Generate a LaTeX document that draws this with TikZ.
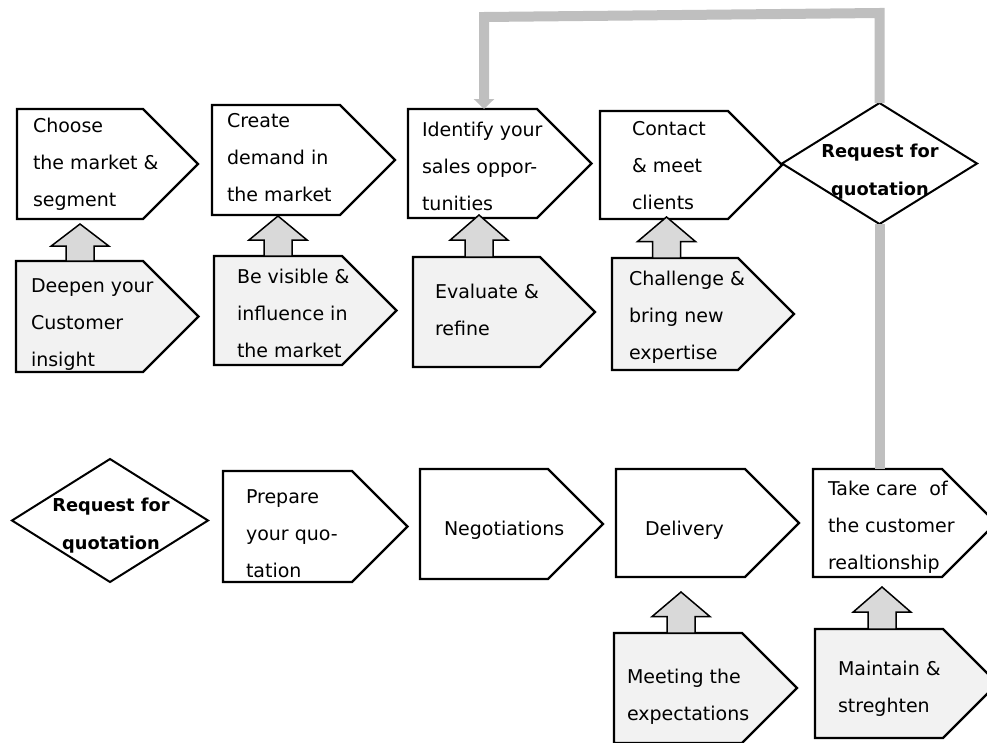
\documentclass[tikz,border=0pt]{standalone}
\usepackage{fontspec}
\setmainfont{DejaVu Sans}
\usetikzlibrary{shapes.geometric,arrows.meta,calc}

\definecolor{panelfill}{HTML}{F2F2F2}
\definecolor{liftfill}{HTML}{D9D9D9}
\definecolor{loopgrey}{HTML}{BFBFBF}

\tikzset{
  tagrect/.style={rectangle, draw=none, inner sep=0pt, outer sep=0pt},
  tagline/.style={draw=black, line width=2.2pt, line join=miter},
  decision/.style={diamond, draw=black, line width=2pt, fill=white,
    inner sep=0pt, outer sep=0pt},
  steptext/.style={inner sep=0pt, outer sep=0pt, anchor=base west},
  decisiontext/.style={inner sep=0pt, outer sep=0pt, anchor=base},
  liftstyle/.style={draw=black, line width=1.5pt, fill=liftfill, line join=miter},
  loopline/.style={draw=loopgrey, line width=10pt, line join=miter},
}

% pentagon tag: name, left, top, right edge of the square part, bottom, fill
\newcommand\tagbox[6]{%
  \node[tagrect, anchor=north west,
        minimum width={(#4-#2)*1pt}, minimum height={(#5-#3)*1pt}] (#1) at (#2,#3) {};
  \draw[tagline, fill=#6] (#1.north west) -- (#1.north east)
    -- ([xshift={(#5-#3)*0.5pt}]#1.east) -- (#1.south east)
    -- (#1.south west) -- cycle;
}

% left aligned text, first baseline at the given point
\newcommand\tagtext[4]{%
  \node[steptext] (#1) at (#2,#3)
    {\parbox[t]{6cm}{\raggedright\fontsize{19}{37}\selectfont #4}};
}

% centred bold text for the decision diamonds
\newcommand\decisiontext[4]{%
  \node[decisiontext] (#1) at (#2,#3)
    {\parbox[t]{6cm}{\centering\fontsize{17.8}{38}\selectfont\bfseries #4}};
}

% block arrow: lower node, upper node, centre x, tip offset below the upper node
\newcommand\liftarrow[4]{%
  \draw[liftstyle] let \p1=(#1.north), \p2=(#2.south), \p3=(#3,0),
      \n1={\y2-(#4pt)}, \n2={\n1+0.6*(\y1-\n1)} in
    ({\x3-14pt},\y1) -- ({\x3-14pt},\n2) -- ({\x3-29pt},\n2) -- (\x3,\n1)
    -- ({\x3+29pt},\n2) -- ({\x3+14pt},\n2) -- ({\x3+14pt},\y1) -- cycle;
}

\begin{document}
\begin{tikzpicture}[x=1pt,y=-1pt]
\useasboundingbox (0,0) rectangle (987,742);
\clip (0,0) rectangle (987,742);

% decision diamonds
\node[decision, minimum width=195pt, minimum height=121pt] (d1) at (879.5,163.5) {};
\node[decision, minimum width=196pt, minimum height=123pt] (d2) at (110,520.5) {};

% corners of the grey return loop
\coordinate (loopR) at (879.5,13);
\coordinate (loopL) at (484,17);

% top row
\tagbox{b1}{17}{109}{143}{219}{white}
\tagbox{b2}{212}{105}{340}{215}{white}
\tagbox{b3}{408}{109}{537}{218}{white}
\tagbox{b4}{600}{111}{728}{219}{white}

% supporting activities
\tagbox{b6}{16}{261}{143}{372}{panelfill}
\tagbox{b7}{214}{256}{342}{365}{panelfill}
\tagbox{b8}{413}{257}{540}{367}{panelfill}
\tagbox{b9}{612}{258}{738}{370}{panelfill}

% bottom row
\tagbox{b11}{223}{471}{352}{582}{white}
\tagbox{b12}{420}{469}{548}{579}{white}
\tagbox{b13}{616}{469}{745}{577}{white}
\tagbox{b14}{813}{469}{942}{577}{white}
\tagbox{b15}{614}{633}{742}{743}{panelfill}
\tagbox{b16}{815}{629}{943}{738}{panelfill}

% grey return loop and link down to the customer relationship step
\draw[loopline, -{Triangle[width=20pt,length=10pt]}]
  (d1.north) -- (loopR) -- (loopL) -- (loopL |- b3.north);
\draw[loopline] (d1.south) -- (d1.south |- b14.north);

% block arrows
\liftarrow{b6}{b1}{80}{5}
\liftarrow{b7}{b2}{278}{1}
\liftarrow{b8}{b3}{479}{-3}
\liftarrow{b9}{b4}{666.5}{-2}
\liftarrow{b15}{b13}{681}{15}
\liftarrow{b16}{b14}{882}{10}

% labels
\tagtext{t1}{33}{132}{Choose\\the market \&\\segment}
\tagtext{t2}{227}{127}{Create\\demand in\\the market}
\tagtext{t3}{422}{136}{Identify your\\sales oppor-\\tunities}
\tagtext{t4}{632}{135}{Contact\\\& meet\\clients}
\decisiontext{td1}{880}{157}{Request for\\quotation}

\tagtext{t6}{31}{292}{Deepen your\\Customer\\insight}
\tagtext{t7}{237}{283}{Be visible \&\\influence in\\the market}
\tagtext{t8}{435}{298}{Evaluate \&\\refine}
\tagtext{t9}{629}{285}{Challenge \&\\bring new\\expertise}

\decisiontext{td2}{111}{511}{Request for\\quotation}
\tagtext{t11}{246}{503}{Prepare\\your quo-\\tation}
\tagtext{t12}{444}{535}{Negotiations}
\tagtext{t13}{645}{535}{Delivery}
\tagtext{t14}{828}{495}{Take care\ \ of\\the customer\\realtionship}
\tagtext{t15}{627}{683}{Meeting the\\expectations}
\tagtext{t16}{838}{675}{Maintain \&\\streghten}
\end{tikzpicture}
\end{document}
